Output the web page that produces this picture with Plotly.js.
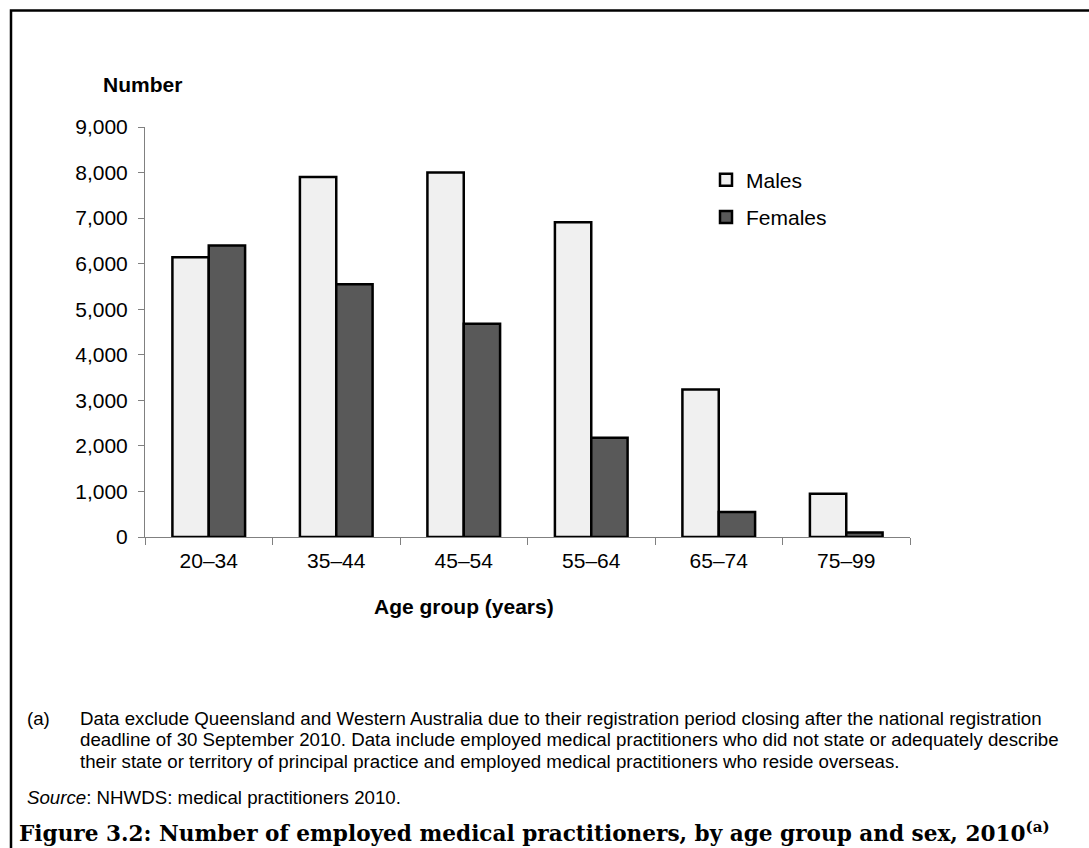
<!DOCTYPE html>
<html>
<head>
<meta charset="utf-8">
<script src="https://cdn.plot.ly/plotly-3.0.1.min.js"></script>
<style>
  html, body { margin: 0; padding: 0; background: #ffffff; }
  #chart { width: 1089px; height: 848px; }
</style>
</head>
<body>
<div id="chart"></div>
<script>
// Employed medical practitioners by age group and sex, 2010
const ageGroups = ['20–34', '35–44', '45–54', '55–64', '65–74', '75–99'];
const males = [6140, 7900, 8000, 6910, 3240, 950];
const females = [6400, 5550, 4680, 2180, 550, 100];
const yTickValues = [0, 1000, 2000, 3000, 4000, 5000, 6000, 7000, 8000, 9000];
const yTickLabels = ['0', '1,000', '2,000', '3,000', '4,000', '5,000', '6,000', '7,000', '8,000', '9,000'];

const W = 1089, H = 848;
const M = { l: 145, r: 179, t: 127, b: 311 };
const plotW = W - M.l - M.r, plotH = H - M.t - M.b;
// pixel -> paper helpers for text placed around the plot
const px = x => (x - M.l) / plotW;
const py = y => (H - M.b - y) / plotH;

const sans = 'Arial, "Liberation Sans", sans-serif';
const serif = '"Book Antiqua", Palatino, "DejaVu Serif", serif';
const noteSize = 18.7;

const traces = [
  {
    type: 'bar', name: 'Males', x: ageGroups, y: males,
    marker: { color: '#f0f0f0', line: { color: '#000000', width: 2.5 } },
    legendgroup: 'm'
  },
  {
    type: 'bar', name: 'Females', x: ageGroups, y: females,
    marker: { color: '#595959', line: { color: '#000000', width: 2.5 } },
    legendgroup: 'f'
  }
];

const layout = {
  width: W, height: H,
  margin: M,
  paper_bgcolor: '#ffffff', plot_bgcolor: '#ffffff',
  barmode: 'group', bargap: 0.43, bargroupgap: 0,
  showlegend: true,
  legend: {
    x: px(706), y: py(159.5), xanchor: 'left', yanchor: 'top',
    font: { family: sans, size: 21, color: '#000000' },
    traceorder: 'grouped', tracegroupgap: 7,
    bgcolor: 'rgba(0,0,0,0)', borderwidth: 0
  },
  xaxis: {
    type: 'category', tickson: 'boundaries', ticks: 'outside', ticklen: 7,
    tickcolor: '#808080', tickwidth: 1,
    showline: true, linecolor: '#808080', linewidth: 1,
    showgrid: false, zeroline: false,
    ticklabelstandoff: 5,
    tickfont: { family: sans, size: 21, color: '#000000' },
    fixedrange: true
  },
  yaxis: {
    range: [0, 9000], tickmode: 'array', tickvals: yTickValues, ticktext: yTickLabels,
    ticks: 'outside', ticklen: 6, tickcolor: '#808080', tickwidth: 1,
    showline: true, linecolor: '#808080', linewidth: 1,
    showgrid: false, zeroline: false,
    ticklabelstandoff: 6,
    tickfont: { family: sans, size: 21, color: '#000000' },
    fixedrange: true
  },
  shapes: [
    // outer frame of the figure panel
    { type: 'rect', xref: 'paper', yref: 'paper',
      x0: px(11), x1: px(1250), y0: py(950), y1: py(10.5),
      line: { color: '#000000', width: 2.5 }, fillcolor: 'rgba(0,0,0,0)', layer: 'below' }
  ],
  annotations: [
    { text: '<b>Number</b>', xref: 'paper', yref: 'paper', x: px(142), y: py(85),
      xanchor: 'center', yanchor: 'middle', showarrow: false,
      font: { family: sans, size: 21, color: '#000000' } },
    { text: '<b>Age group (years)</b>', xref: 'paper', yref: 'paper', x: px(464), y: py(606),
      xanchor: 'center', yanchor: 'middle', showarrow: false,
      font: { family: sans, size: 21, color: '#000000' } },
    { text: '(a)', xref: 'paper', yref: 'paper', x: px(25), y: py(718),
      xanchor: 'left', yanchor: 'middle', showarrow: false,
      font: { family: sans, size: noteSize, color: '#000000' } },
    { text: 'Data exclude Queensland and Western Australia due to their registration period closing after the national registration',
      xref: 'paper', yref: 'paper', x: px(78), y: py(718),
      xanchor: 'left', yanchor: 'middle', showarrow: false,
      font: { family: sans, size: noteSize, color: '#000000' } },
    { text: 'deadline of 30 September 2010. Data include employed medical practitioners who did not state or adequately describe',
      xref: 'paper', yref: 'paper', x: px(78), y: py(739.5),
      xanchor: 'left', yanchor: 'middle', showarrow: false,
      font: { family: sans, size: noteSize, color: '#000000' } },
    { text: 'their state or territory of principal practice and employed medical practitioners who reside overseas.',
      xref: 'paper', yref: 'paper', x: px(78), y: py(761),
      xanchor: 'left', yanchor: 'middle', showarrow: false,
      font: { family: sans, size: noteSize, color: '#000000' } },
    { text: '<i>Source</i>: NHWDS: medical practitioners 2010.',
      xref: 'paper', yref: 'paper', x: px(25), y: py(797),
      xanchor: 'left', yanchor: 'middle', showarrow: false,
      font: { family: sans, size: noteSize, color: '#000000' } },
    { text: '<b>Figure 3.2: Number of employed medical practitioners, by age group and sex, 2010<sup style="font-size:60%">(a)</sup></b>',
      xref: 'paper', yref: 'paper', x: px(17), y: py(832),
      xanchor: 'left', yanchor: 'middle', showarrow: false,
      font: { family: serif, size: 21.6, color: '#000000' } }
  ]
};

Plotly.newPlot('chart', traces, layout, { staticPlot: true, displayModeBar: false });
</script>
</body>
</html>
